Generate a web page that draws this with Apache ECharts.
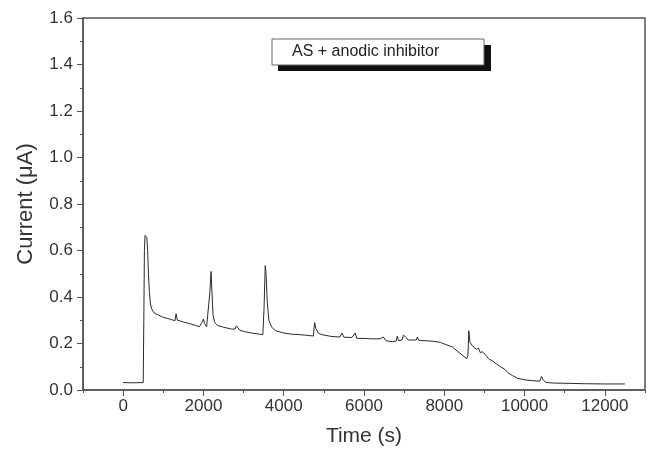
<!DOCTYPE html>
<html>
<head>
<meta charset="utf-8">
<script src="https://cdn.jsdelivr.net/npm/echarts@6/dist/echarts.min.js"></script>
<style>html,body{margin:0;padding:0;background:#fff}#c{width:655px;height:455px}</style>
</head>
<body>
<div id="c"></div>
<script>
const xTickLabels = [0, 2000, 4000, 6000, 8000, 10000, 12000];
const xMinorTicks = [-1000, 1000, 3000, 5000, 7000, 9000, 11000, 13000];
const seriesName = 'AS + anodic inhibitor';
const timeS = [0, 250, 500, 515, 530, 545, 560, 590, 610, 630, 655, 680, 720, 780, 850, 1000, 1100, 1200, 1290, 1320, 1350, 1400, 1500, 1600, 1700, 1800, 1900, 1960, 2000, 2030, 2080, 2120, 2160, 2190, 2210, 2240, 2280, 2350, 2500, 2700, 2790, 2820, 2900, 3000, 3200, 3400, 3480, 3510, 3540, 3560, 3590, 3630, 3700, 3800, 4000, 4200, 4400, 4600, 4740, 4770, 4800, 4860, 4950, 5200, 5400, 5450, 5500, 5700, 5780, 5820, 6000, 6200, 6400, 6480, 6550, 6700, 6800, 6830, 6860, 6950, 6980, 7050, 7100, 7300, 7330, 7360, 7500, 7700, 7900, 8000, 8200, 8340, 8450, 8560, 8590, 8610, 8640, 8700, 8800, 8850, 8900, 8950, 9030, 9100, 9200, 9300, 9400, 9430, 9500, 9580, 9700, 9830, 10030, 10200, 10380, 10420, 10460, 10520, 10700, 11000, 11500, 12000, 12500];
const currentUA = [0.032, 0.031, 0.032, 0.30, 0.60, 0.665, 0.67, 0.655, 0.60, 0.50, 0.42, 0.37, 0.345, 0.33, 0.325, 0.312, 0.308, 0.303, 0.298, 0.328, 0.300, 0.298, 0.292, 0.288, 0.283, 0.278, 0.272, 0.29, 0.305, 0.285, 0.272, 0.27, 0.42, 0.51, 0.43, 0.32, 0.29, 0.278, 0.27, 0.262, 0.262, 0.276, 0.258, 0.252, 0.245, 0.240, 0.238, 0.35, 0.535, 0.50, 0.38, 0.30, 0.27, 0.255, 0.245, 0.240, 0.238, 0.235, 0.232, 0.29, 0.265, 0.245, 0.238, 0.230, 0.228, 0.245, 0.227, 0.226, 0.245, 0.222, 0.222, 0.220, 0.220, 0.228, 0.212, 0.208, 0.21, 0.232, 0.212, 0.215, 0.236, 0.226, 0.215, 0.215, 0.228, 0.214, 0.212, 0.210, 0.205, 0.198, 0.185, 0.165, 0.150, 0.135, 0.15, 0.255, 0.205, 0.19, 0.175, 0.18, 0.16, 0.165, 0.15, 0.135, 0.125, 0.112, 0.10, 0.108, 0.09, 0.075, 0.062, 0.05, 0.043, 0.04, 0.038, 0.058, 0.045, 0.033, 0.03, 0.029, 0.027, 0.026, 0.026];

const data = timeS.map((t, i) => [t, currentUA[i]]);
const chart = echarts.init(document.getElementById('c'), null, {renderer: 'canvas'});
const axisCol = '#555';
const txtCol = '#333';
const font = 'Liberation Sans, Arial, sans-serif';
chart.setOption({
  animation: false,
  backgroundColor: '#fff',
  grid: {left: 83, right: 10, top: 18, bottom: 65, show: true, borderColor: axisCol, borderWidth: 1.5, backgroundColor: 'transparent'},
  xAxis: [{
    type: 'value', min: -1000, max: 13000,
    name: 'Time (s)', nameLocation: 'middle', nameGap: 36,
    nameTextStyle: {fontSize: 21, color: txtCol, fontFamily: font},
    axisLine: {show: true, onZero: false, lineStyle: {color: axisCol, width: 1.5}},
    axisTick: {show: true, inside: false, length: 6, lineStyle: {color: axisCol}, customValues: xTickLabels},
    axisLabel: {color: txtCol, fontSize: 17, fontFamily: font, margin: 8, customValues: xTickLabels, formatter: v => String(v)},
    splitLine: {show: false}
  }, {
    type: 'value', min: -1000, max: 13000, position: 'bottom',
    axisLine: {show: false, onZero: false},
    axisTick: {show: true, inside: false, length: 3, lineStyle: {color: axisCol}, customValues: xMinorTicks},
    axisLabel: {show: false},
    splitLine: {show: false}
  }],
  yAxis: {
    type: 'value', min: 0, max: 1.6, interval: 0.2,
    name: 'Current (\u03bcA)', nameLocation: 'middle', nameGap: 46,
    nameTextStyle: {fontSize: 22, color: txtCol, fontFamily: font},
    axisLine: {show: true, onZero: false, lineStyle: {color: axisCol, width: 1.5}},
    axisTick: {show: true, inside: false, length: 6, lineStyle: {color: axisCol}},
    minorTick: {show: true, splitNumber: 2, length: 3, lineStyle: {color: axisCol}},
    axisLabel: {color: txtCol, fontSize: 17, fontFamily: font, margin: 10, formatter: v => v.toFixed(1)},
    splitLine: {show: false}
  },
  series: [{
    name: seriesName, type: 'line', xAxisIndex: 0, data: data,
    showSymbol: false, symbol: 'none',
    lineStyle: {color: '#2a2a2a', width: 1}
  }],
  graphic: [
    {type: 'rect', shape: {x: 278, y: 45, width: 213, height: 26}, style: {fill: '#111'}},
    {type: 'rect', shape: {x: 272, y: 39, width: 212, height: 26}, style: {fill: '#fff', stroke: '#666', lineWidth: 1}},
    {type: 'text', x: 292, y: 52, style: {text: seriesName, fill: '#222', fontSize: 16, fontFamily: font, verticalAlign: 'middle'}}
  ]
});
</script>
</body>
</html>
